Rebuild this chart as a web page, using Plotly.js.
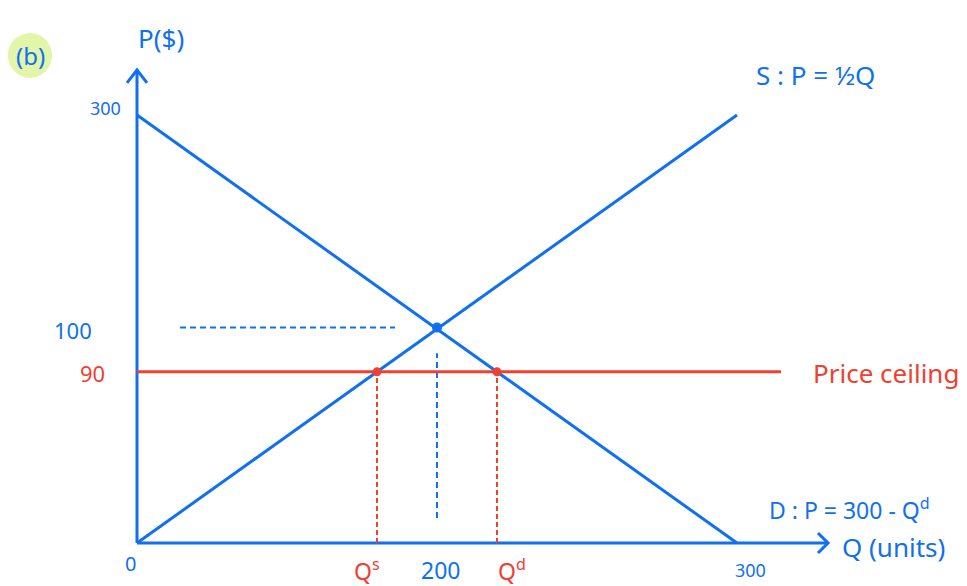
<!DOCTYPE html>
<html>
<head>
<meta charset="utf-8">
<script src="https://cdn.plot.ly/plotly-3.0.1.min.js"></script>
<style>html,body{margin:0;padding:0;background:#fff}#chart{width:967px;height:586px}</style>
</head>
<body>
<div id="chart"></div>
<script>
// Values in the drawing's own (not-to-scale) quantity/price units
const demandQ = [0, 300];
const demandP = [300, 0];
const supplyQ = [0, 300];
const supplyP = [0, 300];
const equilibriumQ = [150];
const equilibriumP = [151];
const ceilingQ = [0, 322];
const ceilingP = [120, 120];
const shortageQ = [120, 180];      // Qs, Qd
const shortageP = [120, 120];
const eqGuideHQ = [21.5, 129];     // dashed guide at P = 100
const eqGuideVP = [17.5, 133];     // dashed guide at Q = 200
const xAxisEnd = 345.5;
const yAxisEnd = 331.5;

const xTickVals = [-3.5, 115, 151.5, 187.5, 306.5];
const xTickText = ['0', 'Q<sup>s</sup>', '200', 'Q<sup>d</sup>', '300'];
const xTickColors = ['blue', 'red', 'blue', 'red', 'blue'];
const yTickVals = [305, 149, 119];
const yTickText = ['300', '100', '90'];
const yTickColors = ['blue', 'blue', 'red'];

const BLUE = '#1070f0';
const RED = '#f04030';
const col = c => (c === 'red' ? RED : BLUE);
const FONT = 'Noto Sans, DejaVu Sans, sans-serif';

const traces = [
  // axes
  {x: [0, xAxisEnd], y: [0, 0], mode: 'lines', line: {color: BLUE, width: 3}},
  {x: [0, 0], y: [0, yAxisEnd], mode: 'lines', line: {color: BLUE, width: 3}},
  // arrow heads
  {x: [xAxisEnd - 5, xAxisEnd, xAxisEnd - 5], y: [7, 0, -7], mode: 'lines', line: {color: BLUE, width: 3}},
  {x: [-5, 0, 5], y: [yAxisEnd - 9, yAxisEnd, yAxisEnd - 9], mode: 'lines', line: {color: BLUE, width: 3}},
  // demand, supply
  {x: demandQ, y: demandP, mode: 'lines', line: {color: BLUE, width: 3}},
  {x: supplyQ, y: supplyP, mode: 'lines', line: {color: BLUE, width: 3}},
  // equilibrium guides
  {x: eqGuideHQ, y: [equilibriumP[0], equilibriumP[0]], mode: 'lines', line: {color: BLUE, width: 2, dash: '6px,4px'}},
  {x: [equilibriumQ[0], equilibriumQ[0]], y: eqGuideVP, mode: 'lines', line: {color: BLUE, width: 2, dash: '6px,4px'}},
  // price ceiling
  {x: ceilingQ, y: ceilingP, mode: 'lines', line: {color: RED, width: 3}},
  // Qs, Qd drop lines
  {x: [shortageQ[0], shortageQ[0]], y: [0, shortageP[0]], mode: 'lines', line: {color: RED, width: 2, dash: '5px,3px'}},
  {x: [shortageQ[1], shortageQ[1]], y: [0, shortageP[1]], mode: 'lines', line: {color: RED, width: 2, dash: '5px,3px'}},
  // points
  {x: shortageQ, y: shortageP, mode: 'markers', marker: {color: RED, size: 9}},
  {x: equilibriumQ, y: equilibriumP, mode: 'markers', marker: {color: BLUE, size: 10}}
];

const annotations = [];
xTickVals.forEach((v, i) => annotations.push({
  x: v, y: i === 0 ? -14 : -19, xref: 'x', yref: 'y', text: xTickText[i], showarrow: false,
  font: {family: FONT, size: i === 0 ? 20 : (i === 4 ? 18 : 23), color: col(xTickColors[i])}
}));
yTickVals.forEach((v, i) => annotations.push({
  x: i === 0 ? -16 : (i === 1 ? -32 : -22.5), y: v, xref: 'x', yref: 'y', text: yTickText[i], showarrow: false,
  font: {family: FONT, size: i === 0 ? 18 : 22, color: col(yTickColors[i])}
}));
annotations.push(
  {x: 12, y: 354, xref: 'x', yref: 'y', text: 'P($)', showarrow: false, font: {family: FONT, size: 26, color: BLUE}},
  {x: -53.5, y: 342, xref: 'x', yref: 'y', text: '(b)', showarrow: false, font: {family: FONT, size: 24, color: BLUE}},
  {x: 339, y: 328, xref: 'x', yref: 'y', text: 'S : P = ½Q', showarrow: false, font: {family: FONT, size: 26, color: BLUE}},
  {x: 374.5, y: 119, xref: 'x', yref: 'y', text: 'Price ceiling', showarrow: false, font: {family: FONT, size: 26, color: RED}},
  {x: 356, y: 24, xref: 'x', yref: 'y', text: 'D : P = 300 - Q<sup>d</sup>', showarrow: false, font: {family: FONT, size: 23, color: BLUE}},
  {x: 378, y: -3, xref: 'x', yref: 'y', text: 'Q (units)', showarrow: false, font: {family: FONT, size: 26, color: BLUE}}
);

const layout = {
  width: 967, height: 586,
  margin: {l: 0, r: 0, t: 0, b: 0},
  paper_bgcolor: '#fff', plot_bgcolor: '#fff',
  showlegend: false,
  xaxis: {range: [-68.5, 415], visible: false, fixedrange: true},
  yaxis: {range: [-30.1, 380.6], visible: false, fixedrange: true},
  shapes: [{type: 'circle', xref: 'x', yref: 'y', x0: -64.5, x1: -42.5, y0: 326, y1: 357.5,
            fillcolor: '#e2f5a8', line: {width: 0}, layer: 'below'}],
  annotations: annotations
};

Plotly.newPlot('chart', traces, layout, {displayModeBar: false, staticPlot: true});
</script>
</body>
</html>
